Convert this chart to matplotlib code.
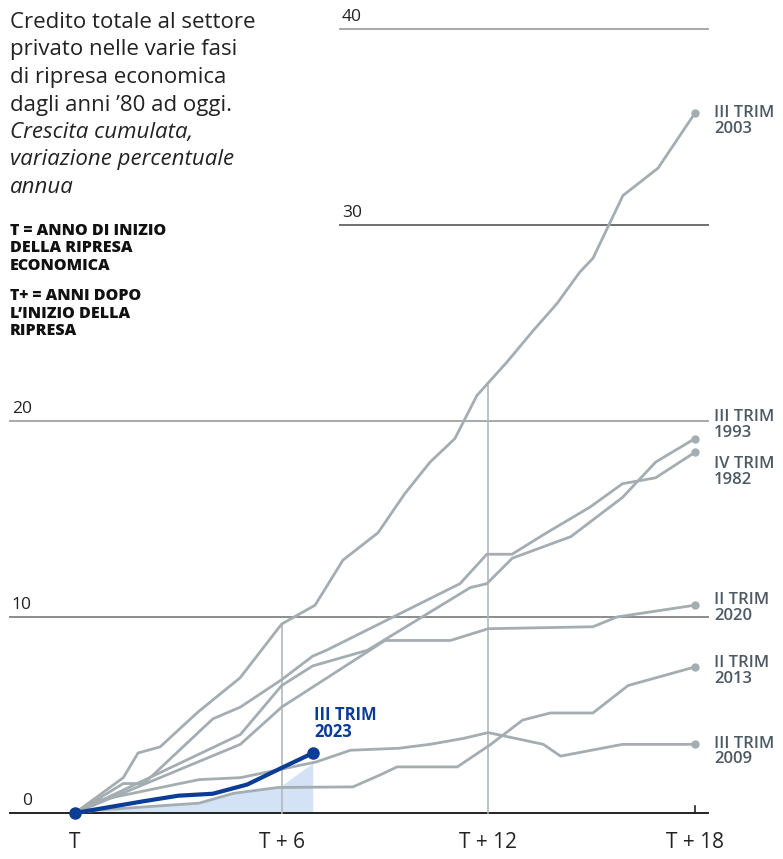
import matplotlib
matplotlib.use("Agg")
import matplotlib.pyplot as plt
import numpy as np

plt.rcParams["font.family"] = ["Open Sans", "DejaVu Sans"]

# quarters after start of recovery -> cumulated growth (%)
x_2003 = [0, 1.4, 1.83, 2.47, 3.57, 4.79, 6.0, 6.97, 7.78, 8.8, 9.58, 10.31, 11.03, 11.67,
          12.54, 13.3, 14.0, 14.66, 15.04, 15.91, 16.93, 18]
y_2003 = [0, 1.8, 3.06, 3.37, 5.15, 6.89, 9.64, 10.6, 12.9, 14.3, 16.3, 17.9, 19.1, 21.3,
          23.0, 24.6, 26.0, 27.6, 28.3, 31.5, 32.9, 35.7]

x_1982 = [0, 1.4, 2.0, 4.0, 4.8, 6.0, 6.9, 7.3, 11.18, 11.96, 12.69, 13.7, 14.95, 15.9,
          16.86, 18]
y_1982 = [0, 1.5, 1.5, 4.8, 5.4, 6.8, 8.0, 8.3, 11.7, 13.2, 13.2, 14.3, 15.6, 16.8, 17.1,
          18.4]

x_1993 = [0, 4.8, 6.0, 6.9, 8.49, 11.48, 11.96, 12.7, 14.4, 15.9, 16.86, 18]
y_1993 = [0, 4.0, 6.5, 7.5, 8.3, 11.5, 11.7, 13.0, 14.1, 16.1, 17.9, 19.1]

x_2020 = [0, 4.8, 6.0, 7.5, 9.0, 10.9, 12.0, 15.04, 15.74, 18]
y_2020 = [0, 3.5, 5.4, 7.1, 8.8, 8.8, 9.4, 9.5, 10.0, 10.6]

x_2013 = [0, 0.7, 3.6, 4.6, 5.9, 8.07, 8.86, 9.35, 11.1, 12.05, 13.0, 13.8, 15.04, 16.06, 18]
y_2013 = [0, 0.15, 0.5, 1.0, 1.3, 1.33, 1.94, 2.35, 2.35, 3.47, 4.74, 5.1, 5.1, 6.5, 7.45]

x_2009 = [0, 0.7, 3.6, 4.8, 7.0, 8.0, 9.4, 10.3, 11.27, 12.0, 13.6, 14.1, 15.9, 18]
y_2009 = [0, 0.65, 1.7, 1.8, 2.6, 3.2, 3.3, 3.5, 3.8, 4.1, 3.5, 2.9, 3.5, 3.5]

x_2023 = [0, 1, 2, 3, 4, 5, 6, 6.9]
y_2023 = [0, 0.3, 0.6, 0.88, 0.98, 1.45, 2.3, 3.05]

# upper edge of the shaded band
x_band = [0, 3.6, 4.6, 6.0, 6.9]
y_band = [0, 0.55, 1.0, 1.4, 2.55]

gray_series = [
    (x_2003, y_2003, "III TRIM\n2003"),
    (x_1993, y_1993, "III TRIM\n1993"),
    (x_1982, y_1982, "IV TRIM\n1982"),
    (x_2020, y_2020, "II TRIM\n2020"),
    (x_2013, y_2013, "II TRIM\n2013"),
    (x_2009, y_2009, "III TRIM\n2009"),
]
label_y = [35.3, 19.8, 17.4, 10.45, 7.25, 3.15]

y_grid = [0, 10, 20, 30, 40]
x_ticks = [0, 6, 12, 18]
x_tick_labels = ["T", "T + 6", "T + 12", "T + 18"]

title_lines = ["Credito totale al settore", "privato nelle varie fasi", "di ripresa economica",
               "dagli anni ’80 ad oggi."]
subtitle_lines = ["Crescita cumulata,", "variazione percentuale", "annua"]
note_lines = ["T = ANNO DI INIZIO", "DELLA RIPRESA", "ECONOMICA",
              "T+ = ANNI DOPO", "L’INIZIO DELLA", "RIPRESA"]

GRAY = "#a4adb2"
BLUE = "#0b3c96"
TEXT = "#222222"
LABEL = "#4d5a63"

W, H = 783, 859
fig = plt.figure(figsize=(W / 100, H / 100), dpi=100)
ax = fig.add_axes([0, 0, 1, 1])
ax.set_xlim(-2.18, 20.56)
ax.set_ylim(-2.35, 41.48)
ax.axis("off")

# horizontal grid
grid_style = {0: ("#222222", -1.89), 10: ("#8c8c8c", -1.89), 20: ("#a8a8a8", -1.89),
              30: ("#707070", 7.7), 40: ("#a8a8a8", 7.7)}
for g in y_grid:
    color, x0 = grid_style[g]
    ax.plot([x0, 18.38], [g, g], color=color, lw=1.4, zorder=1)
    ax.text(x0 + (0.35 if g == 0 else 0.05), g + 0.4, str(g), fontsize=12.5,
            color=TEXT, ha="left", va="baseline")

# vertical reference lines up to the top curve
for xt in (6, 12):
    top = np.interp(xt, x_2003, y_2003)
    ax.plot([xt, xt], [0, top], color="#b0b9be", lw=1.2, zorder=1)
ax.plot([18, 18], [0, 0.35], color="#222222", lw=1.2)

for xt, lab in zip(x_ticks, x_tick_labels):
    ax.text(xt, -1.5, lab, fontsize=15, color=TEXT, ha="center", va="center")

# shaded current window
ax.fill_between(x_band, 0, y_band, color="#d3e2f4", lw=0, zorder=0)

for (xs_, ys_, lab), ly in zip(gray_series, label_y):
    ax.plot(xs_, ys_, color=GRAY, lw=2.0, solid_joinstyle="miter", zorder=2)
    ax.plot(xs_[-1], ys_[-1], "o", color=GRAY, ms=5, zorder=3)
    ax.text(18.55, ly, lab, fontsize=12, fontweight="semibold", color=LABEL,
            ha="left", va="center", linespacing=0.95)

ax.plot(x_2023, y_2023, color=BLUE, lw=3, zorder=4)
ax.plot([x_2023[0], x_2023[-1]], [y_2023[0], y_2023[-1]], "o", color=BLUE, ms=8, zorder=5)
ax.text(x_2023[-1] + 0.05, 4.55, "III TRIM\n2023", fontsize=12,
        fontweight="bold", color=BLUE, ha="left", va="center", linespacing=0.95)

# title block, one baseline per line
for i, line in enumerate(title_lines):
    fig.text(10 / W, 1 - (28 + 27.5 * i) / H, line, fontsize=16, color=TEXT,
             ha="left", va="baseline")
for i, line in enumerate(subtitle_lines):
    fig.text(10 / W, 1 - (138 + 27.5 * i) / H, line, fontsize=16, style="italic",
             color=TEXT, ha="left", va="baseline")
note_base = [235, 252.5, 270, 300, 317.5, 335]
for line, b in zip(note_lines, note_base):
    fig.text(10 / W, 1 - b / H, line, fontsize=11.5, fontweight="heavy", color="#111111",
             ha="left", va="baseline")

fig.savefig("out.png", dpi=100)
